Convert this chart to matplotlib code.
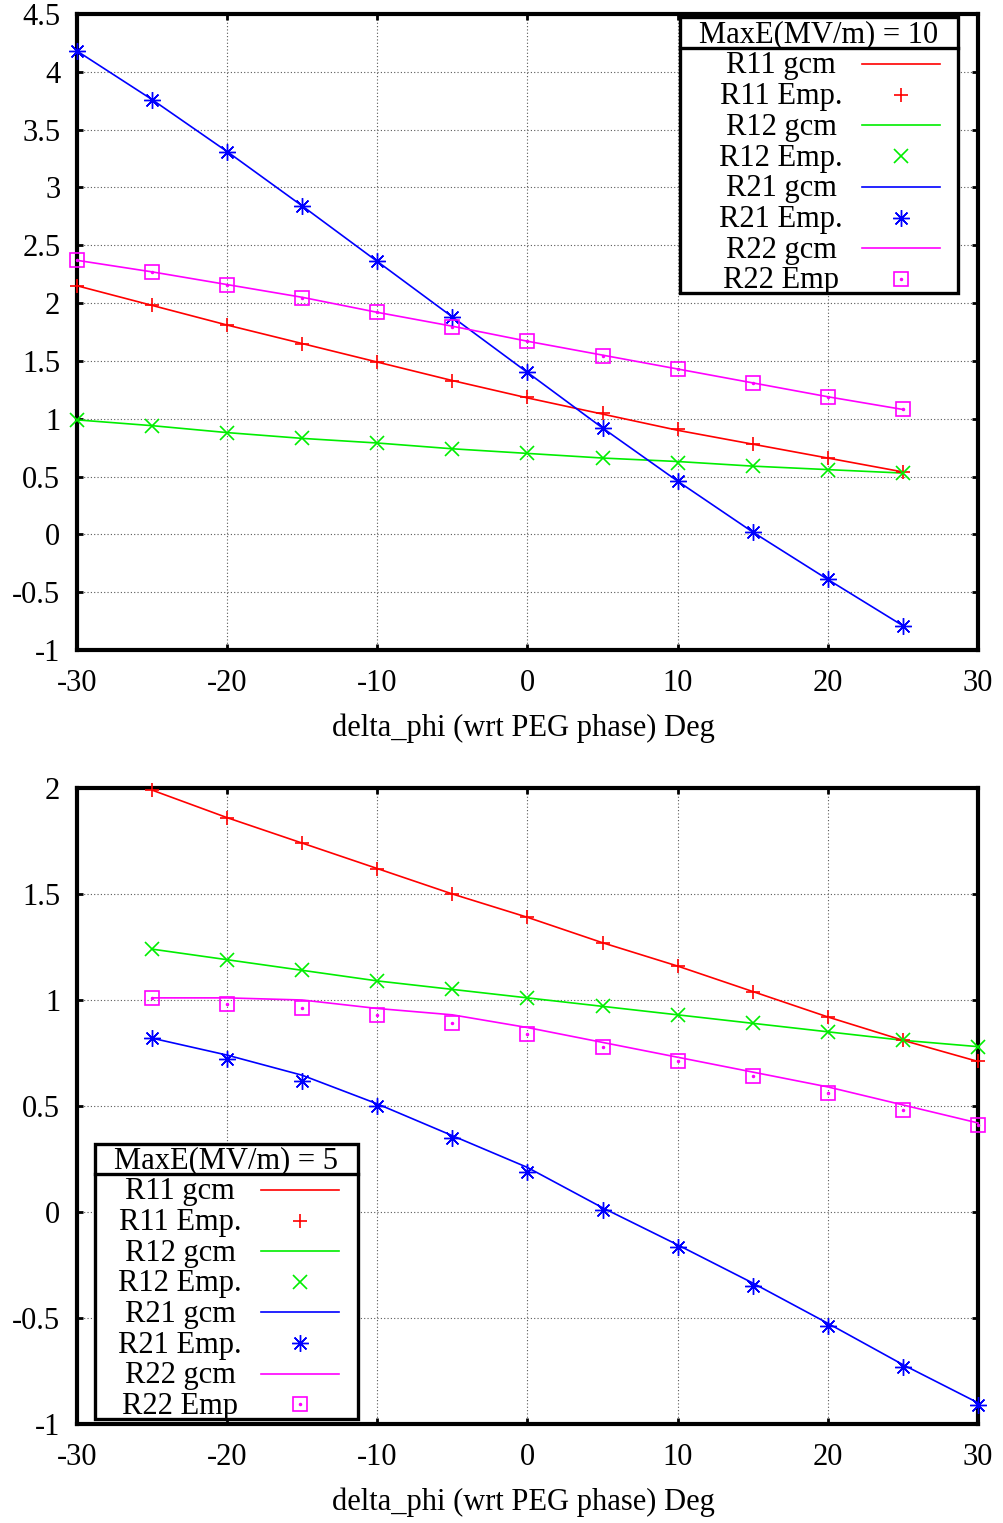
import matplotlib
matplotlib.use("Agg")
import matplotlib.pyplot as plt
from matplotlib.lines import Line2D
from matplotlib.patches import Rectangle

plt.rcParams['font.family'] = ['Liberation Serif', 'DejaVu Serif']
plt.rcParams['font.size'] = 22

W, H = 1004, 1523

# top panel: MaxE = 10
phi_top = [-30, -25, -20, -15, -10, -5, 0, 5, 10, 15, 20, 25]
r11_gcm_top = [2.15, 1.98, 1.81, 1.65, 1.49, 1.33, 1.18, 1.04, 0.90, 0.78, 0.66, 0.54]
r11_emp_top = [2.15, 1.98, 1.81, 1.65, 1.49, 1.33, 1.19, 1.05, 0.91, 0.78, 0.66, 0.54]
r12_gcm_top = [0.99, 0.94, 0.88, 0.83, 0.79, 0.74, 0.70, 0.66, 0.63, 0.59, 0.56, 0.53]
r12_emp_top = [0.99, 0.94, 0.88, 0.83, 0.79, 0.74, 0.70, 0.66, 0.62, 0.59, 0.56, 0.53]
r21_gcm_top = [4.18, 3.76, 3.31, 2.84, 2.36, 1.88, 1.40, 0.92, 0.46, 0.02, -0.39, -0.79]
r21_emp_top = [4.18, 3.76, 3.31, 2.84, 2.36, 1.88, 1.40, 0.92, 0.46, 0.02, -0.39, -0.79]
r22_gcm_top = [2.37, 2.27, 2.16, 2.05, 1.92, 1.80, 1.67, 1.55, 1.43, 1.31, 1.19, 1.08]
r22_emp_top = [2.37, 2.27, 2.16, 2.04, 1.92, 1.79, 1.67, 1.54, 1.43, 1.31, 1.19, 1.08]

# bottom panel: MaxE = 5
phi_bot = [-25, -20, -15, -10, -5, 0, 5, 10, 15, 20, 25, 30]
r11_gcm_bot = [1.99, 1.86, 1.74, 1.62, 1.50, 1.39, 1.27, 1.16, 1.04, 0.92, 0.81, 0.71]
r11_emp_bot = [1.99, 1.86, 1.74, 1.62, 1.50, 1.39, 1.27, 1.16, 1.04, 0.92, 0.81, 0.71]
r12_gcm_bot = [1.24, 1.19, 1.14, 1.09, 1.05, 1.01, 0.97, 0.93, 0.89, 0.85, 0.81, 0.78]
r12_emp_bot = [1.24, 1.19, 1.14, 1.09, 1.05, 1.01, 0.97, 0.93, 0.89, 0.85, 0.81, 0.78]
r21_gcm_bot = [0.82, 0.74, 0.645, 0.51, 0.36, 0.21, 0.02, -0.155, -0.335, -0.525, -0.72, -0.90]
r21_emp_bot = [0.82, 0.72, 0.62, 0.50, 0.35, 0.19, 0.01, -0.165, -0.35, -0.54, -0.73, -0.91]
r22_gcm_bot = [1.01, 1.01, 1.00, 0.96, 0.93, 0.87, 0.80, 0.73, 0.66, 0.59, 0.505, 0.42]
r22_emp_bot = [1.01, 0.98, 0.96, 0.93, 0.89, 0.84, 0.78, 0.71, 0.64, 0.56, 0.48, 0.41]

xticks = [-30, -20, -10, 0, 10, 20, 30]
yticks_top = [-1, -0.5, 0, 0.5, 1, 1.5, 2, 2.5, 3, 3.5, 4, 4.5]
yticks_bot = [-1, -0.5, 0, 0.5, 1, 1.5, 2]
xlabel = "delta_phi (wrt PEG phase) Deg"

RED, GREEN, BLUE, MAG = '#ff0000', '#00ee00', '#0000ff', '#ff00ff'
ASTER = (8, 2, 0)
labels = ["R11 gcm", "R11 Emp.", "R12 gcm", "R12 Emp.",
          "R21 gcm", "R21 Emp.", "R22 gcm", "R22 Emp"]
styles = [(RED, None), (RED, '+'), (GREEN, None), (GREEN, 'x'),
          (BLUE, None), (BLUE, ASTER), (MAG, None), (MAG, 's')]
MS = 10
MEW = 1.2


def fx(px):
    return px / W


def fy(py):
    return 1 - py / H


def make_axes(top, bottom):
    ax = fig.add_axes([fx(77), fy(bottom), fx(978) - fx(77), fy(top) - fy(bottom)])
    for s in ax.spines.values():
        s.set_linewidth(3.0)
    ax.grid(True, color='0.35', linestyle=(0, (1, 2)), linewidth=0.8)
    ax.tick_params(direction='in', length=4, width=2, top=True, right=True)
    ax.tick_params(axis='x', pad=14)
    ax.tick_params(axis='y', pad=12)
    ax.set_xlim(-30, 30)
    ax.set_xticks(xticks)
    ax.set_xticklabels([str(t) for t in xticks])
    return ax


def marker_kw(c, m):
    if m == ASTER:
        return dict(marker=m, ms=MS + 2, color=c, mew=1.0)
    return dict(marker=m, ms=MS, color=c, mew=MEW)


def draw_series(ax, x, gcm, emp):
    for (c, m), vals in zip(styles, [gcm[0], emp[0], gcm[1], emp[1], gcm[2], emp[2], gcm[3], emp[3]]):
        if m is None:
            ax.plot(x, vals, color=c, lw=1.2, clip_on=False, zorder=3)
        elif m == 's':
            ax.plot(x, vals, ls='none', marker='s', ms=MS, mfc='none', mec=c,
                    mew=MEW, clip_on=False, zorder=4)
            ax.plot(x, vals, ls='none', marker='o', ms=1.5, color=c, clip_on=False, zorder=4)
        else:
            ax.plot(x, vals, ls='none', clip_on=False, zorder=4, **marker_kw(c, m))


def draw_key(x0, x1, y0, y_sep, y1, title, text_cx, samp0, samp1, row0, step):
    fig.add_artist(Rectangle((fx(x0), fy(y1)), fx(x1) - fx(x0), fy(y0) - fy(y1),
                             transform=fig.transFigure, facecolor='white',
                             edgecolor='black', lw=2.4, zorder=5))
    fig.add_artist(Line2D([fx(x0), fx(x1)], [fy(y_sep), fy(y_sep)],
                          transform=fig.transFigure, color='black', lw=2.4, zorder=6))
    fig.text(fx((x0 + x1) / 2), fy((y0 + y_sep) / 2 + 2), title,
             ha='center', va='center', zorder=7)
    for i, (lab, (c, m)) in enumerate(zip(labels, styles)):
        yy = fy(row0 + i * step)
        fig.text(fx(text_cx), fy(row0 + i * step + 2), lab, ha='center', va='center', zorder=7)
        if m is None:
            fig.add_artist(Line2D([fx(samp0), fx(samp1)], [yy, yy], transform=fig.transFigure,
                                  color=c, lw=1.2, zorder=7))
        else:
            xm = fx((samp0 + samp1) / 2)
            if m == 's':
                fig.add_artist(Line2D([xm], [yy], transform=fig.transFigure, ls='none',
                                      marker='s', ms=MS, mfc='none', mec=c, mew=MEW, zorder=7))
                fig.add_artist(Line2D([xm], [yy], transform=fig.transFigure, ls='none',
                                      marker='o', ms=1.5, color=c, zorder=7))
            else:
                fig.add_artist(Line2D([xm], [yy], transform=fig.transFigure, ls='none',
                                      zorder=7, **marker_kw(c, m)))


fig = plt.figure(figsize=(W / 100, H / 100), dpi=100)

ax1 = make_axes(14, 650)
ax1.set_ylim(-1, 4.5)
ax1.set_yticks(yticks_top)
ax1.set_yticklabels(['%g' % t for t in yticks_top])
draw_series(ax1, phi_top,
            [r11_gcm_top, r12_gcm_top, r21_gcm_top, r22_gcm_top],
            [r11_emp_top, r12_emp_top, r21_emp_top, r22_emp_top])
fig.text(fx(523), fy(728), xlabel, ha='center', va='center')

ax2 = make_axes(788, 1424)
ax2.set_ylim(-1, 2)
ax2.set_yticks(yticks_bot)
ax2.set_yticklabels(['%g' % t for t in yticks_bot])
draw_series(ax2, phi_bot,
            [r11_gcm_bot, r12_gcm_bot, r21_gcm_bot, r22_gcm_bot],
            [r11_emp_bot, r12_emp_bot, r21_emp_bot, r22_emp_bot])
fig.text(fx(523), fy(1502), xlabel, ha='center', va='center')

draw_key(680, 958, 17, 48, 293, "MaxE(MV/m) = 10", 781, 862, 940, 64, 30.7)
draw_key(95, 358, 1144, 1174, 1419, "MaxE(MV/m) = 5", 180, 261, 339, 1190, 30.6)

fig.savefig("out.png", dpi=100)
